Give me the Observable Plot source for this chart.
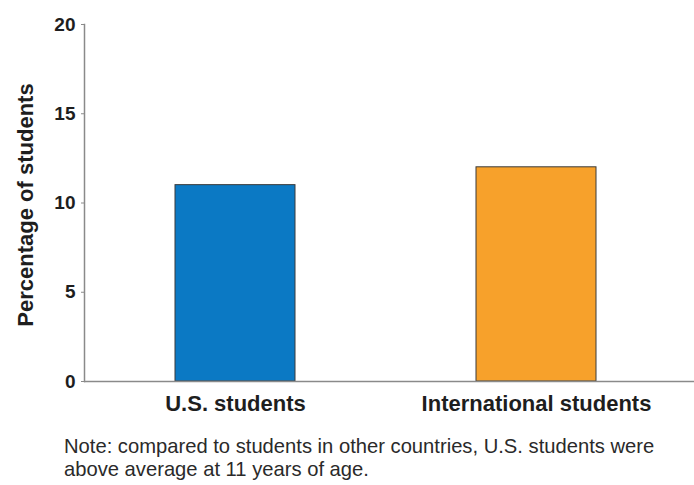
<!DOCTYPE html>
<html><head><meta charset="utf-8">
<script src="https://cdn.jsdelivr.net/npm/d3@7"></script>
<script src="https://cdn.jsdelivr.net/npm/@observablehq/plot@0.6"></script>
<style>
body{margin:0;background:#fff;font-family:"Liberation Sans",Arial,sans-serif;}
#chart svg{display:block;}
#note{margin:23px 0 0 64px;font-size:20.2px;line-height:23px;color:#2a2a2a;width:620px;}
</style></head><body>
<div id="chart"></div>
<div id="note">Note: compared to students in other countries, U.S. students were above average at 11 years of age.</div>
<script>
const categories = ["U.S. students", "International students"];
const values = [11, 12];
const colors = ["#0b79c4", "#f7a12b"];
const yTicks = [0, 5, 10, 15, 20];
const yLabel = "Percentage of students";
const data = categories.map((c, i) => ({category: c, value: values[i], color: colors[i]}));

const chart = Plot.plot({
  width: 694, height: 412,
  marginLeft: 84, marginRight: 0, marginTop: 24, marginBottom: 31,
  style: {fontFamily: "Liberation Sans, Arial, sans-serif", color: "#1e1e1e", background: "#fff", overflow: "visible"},
  x: {domain: categories, paddingInner: 0.6, paddingOuter: 0.31, align: 0.48, label: null},
  y: {domain: [0, 20], label: null},
  marks: [
    Plot.barY(data, {x: "category", y: "value", fill: "color", stroke: "#3a3a3a", strokeWidth: 1}),
    Plot.ruleY([0], {stroke: "#8a8a8a", strokeWidth: 1.5}),
    Plot.axisY({ticks: yTicks, tickSize: 3, tickPadding: 6, stroke: "#8a8a8a", fontSize: 19, fontWeight: "bold", label: null}),
    Plot.frame({anchor: "left", stroke: "#8a8a8a", strokeWidth: 1.5}),
    Plot.axisX({tickSize: 0, tickPadding: 14, fontSize: 22, fontWeight: "bold", label: null}),
    Plot.text([yLabel], {frameAnchor: "left", textAnchor: "middle", dx: -59, dy: 2, rotate: -90, fontSize: 22, fontWeight: "bold", fill: "#1e1e1e"})
  ]
});
document.getElementById("chart").appendChild(chart);
</script>
</body></html>
